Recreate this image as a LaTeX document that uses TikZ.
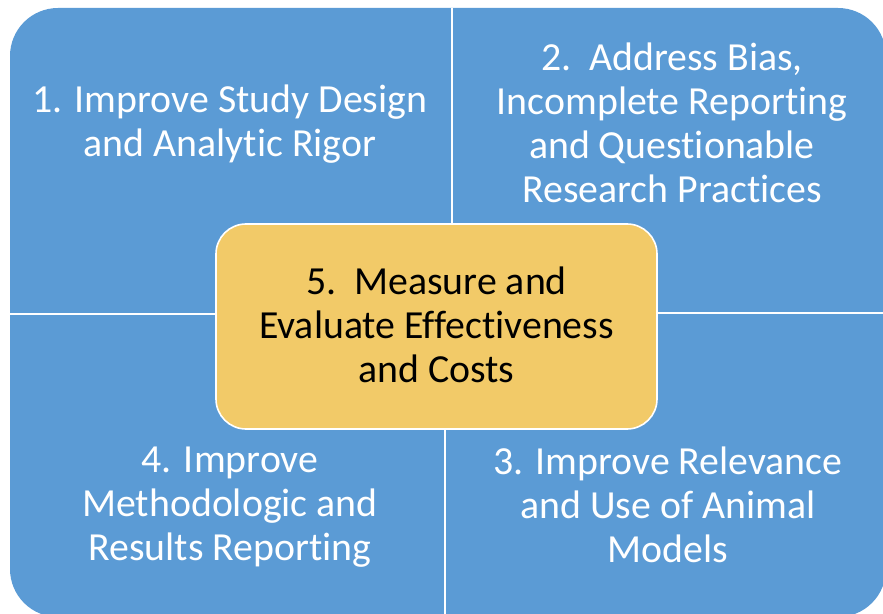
\documentclass[tikz,border=0pt]{standalone}
\usepackage{fontspec}
\setmainfont[Ligatures=NoCommon]{Carlito}
\usepackage{xcolor}
\usetikzlibrary{shapes,backgrounds,calc}
\definecolor{quadblue}{HTML}{5B9BD5}
\definecolor{centergold}{HTML}{F2CA68}

\begin{document}
\begin{tikzpicture}[x=0.5pt,y=-0.5pt]
        % Styles for the texts in the quadrants and in the centre
        \tikzstyle{quadtext}=[text=white,align=center,font=\fontsize{19.9}{21.9}\selectfont];
        \tikzstyle{centertext}=[text=black,align=center,font=\fontsize{19.9}{21.9}\selectfont];
        \tikzstyle{gap}=[white,line width=1pt];
        
        % Fix the page to the size of the picture
        \useasboundingbox (0,0) rectangle (883,614);
        
        % Outer blue area with rounded corners
        \fill[quadblue,rounded corners=24pt] (10,8) rectangle (886,617);
        
        % White gaps between the four quadrants
        \draw[gap] (452,8) -- (452,224);
        \draw[gap] (445,429) -- (445,617);
        \draw[gap] (10,314) -- (216,314);
        \draw[gap] (657,313) -- (886,313);
        
        % Centre box
        \coordinate (C) at (436.5,325);
        \filldraw[fill=centergold,draw=white,line width=0.8pt,rounded corners=15pt] (216,224) rectangle (657,429);
        
        % Texts of the quadrants
        \node[quadtext] (design) at (230,124) {1. Improve Study Design\\and Analytic Rigor};
        \node[quadtext] (bias) at (672,123) {2.\ \ Address Bias,\\Incomplete Reporting\\and Questionable\\Research Practices};
        \node[quadtext] (models) at (668,505) {3. Improve Relevance\\and Use of Animal\\Models};
        \node[quadtext] (reporting) at (230,507) {4. Improve\\Methodologic and\\Results Reporting};
        
        % Label in the centre
        \node[centertext] (measure) at (C) {5.\ \ Measure and\\Evaluate Effectiveness\\and Costs};
    \end{tikzpicture}
\end{document}
